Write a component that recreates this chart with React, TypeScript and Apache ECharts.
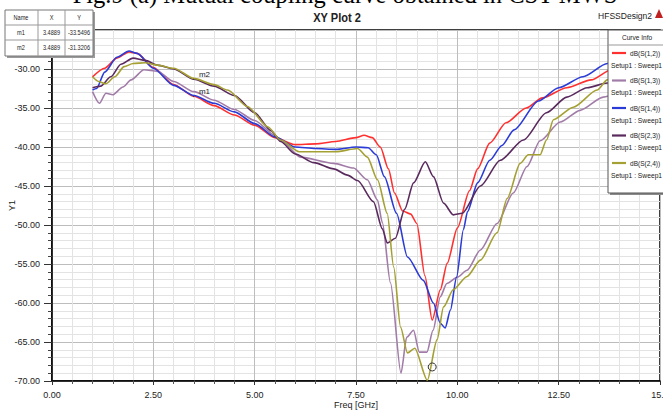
import React, { useEffect, useRef } from "react";
import * as echarts from "echarts";

const seriesNames = ["dB(S(1,2))", "dB(S(1,3))", "dB(S(1,4))", "dB(S(2,3))", "dB(S(2,4))"];
const seriesColors = ["#ff3030", "#a27ca8", "#2b3bd6", "#5a2a5e", "#a5a034"];

const freqS12 = [1.0, 1.3, 1.6, 1.9, 2.1, 2.5, 3.0, 3.5, 4.0, 4.5, 5.0, 5.5, 6.0, 6.5, 7.0, 7.5, 7.7, 7.9, 8.1, 8.3, 8.45, 8.65, 8.85, 9.0, 9.2, 9.38, 9.58, 9.75, 10.0, 10.3, 10.5, 10.8, 11.2, 11.7, 12.1, 12.7, 13.3, 13.8, 14.4, 15.0];
const valS12 = [-31.0, -29.9, -28.6, -27.8, -28.0, -29.8, -32.0, -33.5, -34.7, -35.9, -37.2, -38.8, -39.7, -39.6, -39.3, -38.8, -38.5, -38.8, -40.0, -42.8, -45.9, -48.2, -48.6, -49.8, -56.5, -62.2, -58.3, -54.9, -50.4, -45.6, -42.8, -39.5, -36.9, -35.0, -33.7, -32.4, -31.4, -30.1, -29.5, -28.8];

const freqS13 = [1.0, 1.17, 1.33, 1.5, 1.75, 1.95, 2.27, 2.6, 3.0, 3.5, 4.0, 4.5, 5.0, 5.5, 5.7, 6.13, 6.95, 7.44, 7.78, 8.03, 8.15, 8.35, 8.61, 8.75, 8.92, 9.06, 9.25, 9.4, 9.58, 9.74, 10.0, 10.24, 10.57, 10.98, 11.38, 11.72, 12.04, 12.54, 13.03, 13.6, 14.3, 15.0];
const valS13 = [-32.9, -34.4, -33.1, -33.3, -32.3, -31.4, -30.1, -30.3, -31.6, -32.9, -34.0, -35.2, -36.6, -38.5, -39.4, -41.3, -42.1, -42.7, -44.2, -46.8, -49.7, -57.4, -69.0, -64.4, -63.5, -66.3, -66.3, -63.5, -59.2, -57.5, -56.7, -55.8, -53.2, -49.8, -45.9, -42.5, -39.2, -36.8, -35.3, -33.6, -32.5, -31.3];

const freqS14 = [1.0, 1.1, 1.3, 1.6, 1.9, 2.1, 2.5, 3.0, 3.5, 4.0, 4.5, 5.0, 5.5, 6.0, 6.5, 7.0, 7.5, 7.8, 8.0, 8.2, 8.5, 8.77, 9.16, 9.41, 9.58, 9.7, 9.83, 9.98, 10.15, 10.25, 10.5, 10.8, 11.1, 11.4, 12.0, 12.5, 13.1, 13.7, 14.4, 15.0];
const valS14 = [-32.7, -32.5, -30.4, -28.5, -27.7, -28.0, -29.9, -32.1, -33.4, -34.4, -35.5, -37.0, -38.7, -40.0, -40.2, -40.3, -40.0, -40.1, -41.0, -43.8, -48.5, -54.1, -57.1, -60.0, -62.6, -63.2, -60.9, -56.7, -50.6, -48.3, -44.6, -41.7, -39.8, -37.8, -34.1, -32.4, -31.0, -29.3, -28.3, -27.5];

const freqS23 = [1.0, 1.2, 1.45, 1.7, 2.0, 2.3, 2.6, 3.0, 3.5, 4.0, 4.5, 5.0, 5.4, 5.64, 6.0, 6.46, 6.95, 7.29, 7.54, 7.93, 8.15, 8.27, 8.47, 8.7, 8.92, 9.21, 9.41, 9.66, 9.9, 10.12, 10.57, 11.06, 11.63, 12.2, 12.7, 13.2, 13.7, 14.3, 15.0];
const valS23 = [-32.4, -32.2, -31.0, -29.4, -28.6, -28.9, -29.5, -30.0, -31.3, -32.2, -33.4, -35.6, -37.9, -39.3, -40.9, -42.0, -42.8, -43.6, -44.3, -47.0, -50.5, -52.3, -51.7, -48.0, -44.6, -41.9, -43.8, -47.2, -48.7, -48.5, -45.0, -41.7, -39.1, -35.6, -33.6, -32.4, -31.8, -31.2, -30.5];

const freqS24 = [1.0, 1.15, 1.33, 1.55, 1.78, 2.0, 2.3, 2.6, 3.0, 3.5, 4.0, 4.33, 4.82, 5.32, 5.64, 6.1, 7.0, 7.54, 7.78, 8.03, 8.27, 8.43, 8.6, 8.77, 8.95, 9.26, 9.5, 9.66, 9.9, 10.24, 10.57, 10.98, 11.23, 11.55, 11.75, 12.04, 12.2, 12.37, 12.86, 13.45, 13.7, 14.3, 15.0];
const valS24 = [-31.0, -31.6, -31.9, -31.0, -29.7, -29.3, -29.2, -29.5, -29.9, -31.2, -32.0, -32.7, -34.8, -37.4, -39.1, -40.6, -40.6, -40.2, -41.3, -44.2, -48.5, -55.4, -63.1, -66.4, -65.8, -69.9, -64.7, -60.5, -58.3, -56.6, -54.5, -51.0, -46.6, -42.1, -41.0, -41.0, -39.1, -36.5, -34.9, -32.7, -31.4, -30.3, -29.3];

const xTicks = [0, 2.5, 5, 7.5, 10, 12.5, 15];
const yTicks = [-70, -65, -60, -55, -50, -45, -40, -35, -30];

const markerNames = ["m1", "m2"];
const markerX = [3.4889, 3.4889];
const markerY = [-33.5496, -31.3206];
const markerSeries = [2, 4];
const circleMarker = [9.38, -68.2];

const allFreqs = [freqS12, freqS13, freqS14, freqS23, freqS24];
const allVals = [valS12, valS13, valS14, valS23, valS24];

const sans = "'Liberation Sans', Arial, sans-serif";
const TOP = 100;

function txt(text: string, x: number, y: number, size: number, sx: number, extra: any = {}) {
  return {
    type: "text",
    z: TOP + 2,
    x,
    y,
    scaleX: sx,
    style: { text, x: 0, y: 0, fontSize: size, fontFamily: sans, fill: "#222", verticalAlign: "middle", ...extra },
  };
}

export default function App() {
  const ref = useRef<HTMLDivElement>(null);
  useEffect(() => {
    if (!ref.current) return;
    const chart = echarts.init(ref.current, undefined, { renderer: "svg" });

    const series = seriesNames.map((name, i) => {
      const mp: any[] = [];
      markerNames.forEach((m, k) => {
        if (markerSeries[k] === i) {
          mp.push({
            coord: [markerX[k], markerY[k]],
            symbol: "circle",
            symbolSize: 1,
            itemStyle: { color: "#333" },
            label: {
              show: true,
              formatter: m,
              position: "right",
              offset: [0, -5],
              color: "#222",
              fontSize: 8,
              fontFamily: sans,
            },
          });
        }
      });
      if (i === 4) {
        mp.push({
          coord: circleMarker,
          symbol: "circle",
          symbolSize: 8,
          itemStyle: { color: "rgba(0,0,0,0)", borderColor: "#333", borderWidth: 1 },
          label: { show: false },
        });
      }
      return {
        name,
        type: "line",
        data: allFreqs[i].map((f, j) => [f, allVals[i][j]]),
        showSymbol: false,
        smooth: 0.25,
        smoothMonotone: "x",
        lineStyle: { color: seriesColors[i], width: 1.6 },
        itemStyle: { color: seriesColors[i] },
        z: 3,
        markPoint: mp.length ? { data: mp, animation: false } : undefined,
      };
    });

    const legendItems: any[] = [];
    seriesNames.forEach((n, i) => {
      const y0 = 53 + i * 27.5;
      legendItems.push({
        type: "line",
        z: TOP + 2,
        shape: { x1: 612, y1: y0, x2: 626, y2: y0 },
        style: { stroke: seriesColors[i], lineWidth: 2.2 },
      });
      legendItems.push(txt(n, 630, y0, 8, 0.82));
      legendItems.push(txt("Setup1 : Sweep1", 611, y0 + 12, 8, 0.84));
    });

    const tableRows = [["Name", "X", "Y"], ...markerNames.map((m, k) => [m, markerX[k].toFixed(4), markerY[k].toFixed(4)])];
    const colCenters = [21, 51.5, 79];
    const tableItems: any[] = [
      { type: "rect", z: TOP, shape: { x: 7, y: 12, width: 88, height: 46 }, style: { fill: "#9a9a9a" } },
      { type: "rect", z: TOP + 1, shape: { x: 5, y: 10, width: 88, height: 46 }, style: { fill: "#fff", stroke: "#777", lineWidth: 1 } },
      { type: "line", z: TOP + 2, shape: { x1: 5, y1: 25, x2: 93, y2: 25 }, style: { stroke: "#999", lineWidth: 1 } },
      { type: "line", z: TOP + 2, shape: { x1: 5, y1: 40, x2: 93, y2: 40 }, style: { stroke: "#999", lineWidth: 1 } },
      { type: "line", z: TOP + 2, shape: { x1: 38, y1: 10, x2: 38, y2: 56 }, style: { stroke: "#999", lineWidth: 1 } },
      { type: "line", z: TOP + 2, shape: { x1: 65, y1: 10, x2: 65, y2: 56 }, style: { stroke: "#999", lineWidth: 1 } },
    ];
    tableRows.forEach((row, r) => {
      row.forEach((cell, c) => {
        tableItems.push(txt(cell, colCenters[c], 17.5 + r * 15, 7, 0.8, { align: "center" }));
      });
    });

    chart.setOption({
      animation: false,
      backgroundColor: "#fff",
      grid: {
        left: 52,
        right: 3,
        top: 30,
        bottom: 30,
        outerBoundsMode: "none",
        containLabel: false,
        show: true,
        borderColor: "#000",
        borderWidth: 1.5,
        backgroundColor: "#fff",
      },
      xAxis: {
        type: "value",
        min: xTicks[0],
        max: xTicks[xTicks.length - 1],
        interval: 2.5,
        name: "Freq [GHz]",
        nameLocation: "middle",
        nameGap: 19,
        nameMoveOverlap: false,
        nameTextStyle: { fontSize: 9, fontFamily: sans, color: "#222" },
        axisLine: { show: true, onZero: false, lineStyle: { color: "#000", width: 1.5 } },
        axisTick: { show: true, length: 4, lineStyle: { color: "#333" } },
        minorTick: { show: true, splitNumber: 5, length: 3, lineStyle: { color: "#555" } },
        axisLabel: {
          fontSize: 9,
          fontFamily: sans,
          color: "#222",
          margin: 9,
          formatter: (v: number) => (v === 15 ? "15.0" : v.toFixed(2)),
        },
        splitLine: { show: true, lineStyle: { color: "#bdbdbd", width: 1 } },
        minorSplitLine: { show: true, lineStyle: { color: "#e3e3e3", width: 1 } },
      },
      yAxis: {
        type: "value",
        min: yTicks[0],
        max: -25,
        interval: 5,
        name: "Y1",
        nameLocation: "middle",
        nameGap: 36,
        nameMoveOverlap: false,
        nameTextStyle: { fontSize: 9, fontFamily: sans, color: "#222" },
        axisLine: { show: true, onZero: false, lineStyle: { color: "#000", width: 1.5 } },
        axisTick: { show: true, length: 8, lineStyle: { color: "#333" } },
        minorTick: { show: true, splitNumber: 5, length: 4, lineStyle: { color: "#444" } },
        axisLabel: {
          fontSize: 9,
          fontFamily: sans,
          color: "#222",
          margin: 12,
          showMaxLabel: false,
          formatter: (v: number) => v.toFixed(2),
        },
        splitLine: { show: true, lineStyle: { color: "#bdbdbd", width: 1 } },
        minorSplitLine: { show: true, lineStyle: { color: "#e3e3e3", width: 1 } },
      },
      series,
      graphic: [
        {
          type: "text",
          z: TOP + 5,
          style: {
            text: "Fig.9 (a) Mutual coupling curve obtained in CST MWS",
            x: 345,
            y: 7,
            align: "center",
            verticalAlign: "bottom",
            fontSize: 24.5,
            fontFamily: "'Liberation Serif', 'Times New Roman', serif",
            fill: "#000",
          },
        },
        txt("XY Plot 2", 337, 18, 13, 0.85, { align: "center", fontWeight: "bold" }),
        txt("HFSSDesign2", 598, 15.5, 9, 0.95),
        {
          type: "polygon",
          z: TOP,
          shape: { points: [[655, 18], [659, 9], [663, 18]] },
          style: { fill: "#c02020" },
        },
        { type: "rect", z: TOP, shape: { x: 610, y: 32, width: 60, height: 163 }, style: { fill: "#8a8a8a" } },
        { type: "rect", z: TOP + 1, shape: { x: 608, y: 30, width: 60, height: 163 }, style: { fill: "#fff", stroke: "#555", lineWidth: 1 } },
        { type: "line", z: TOP + 2, shape: { x1: 608, y1: 45, x2: 663, y2: 45 }, style: { stroke: "#999", lineWidth: 1 } },
        txt("Curve Info", 637, 37.5, 8, 0.82, { align: "center" }),
        ...legendItems,
        ...tableItems,
      ],
    });
    return () => chart.dispose();
  }, []);
  return <div ref={ref} style={{ position: "fixed", left: 0, top: 0, width: 663, height: 411 }} />;
}
